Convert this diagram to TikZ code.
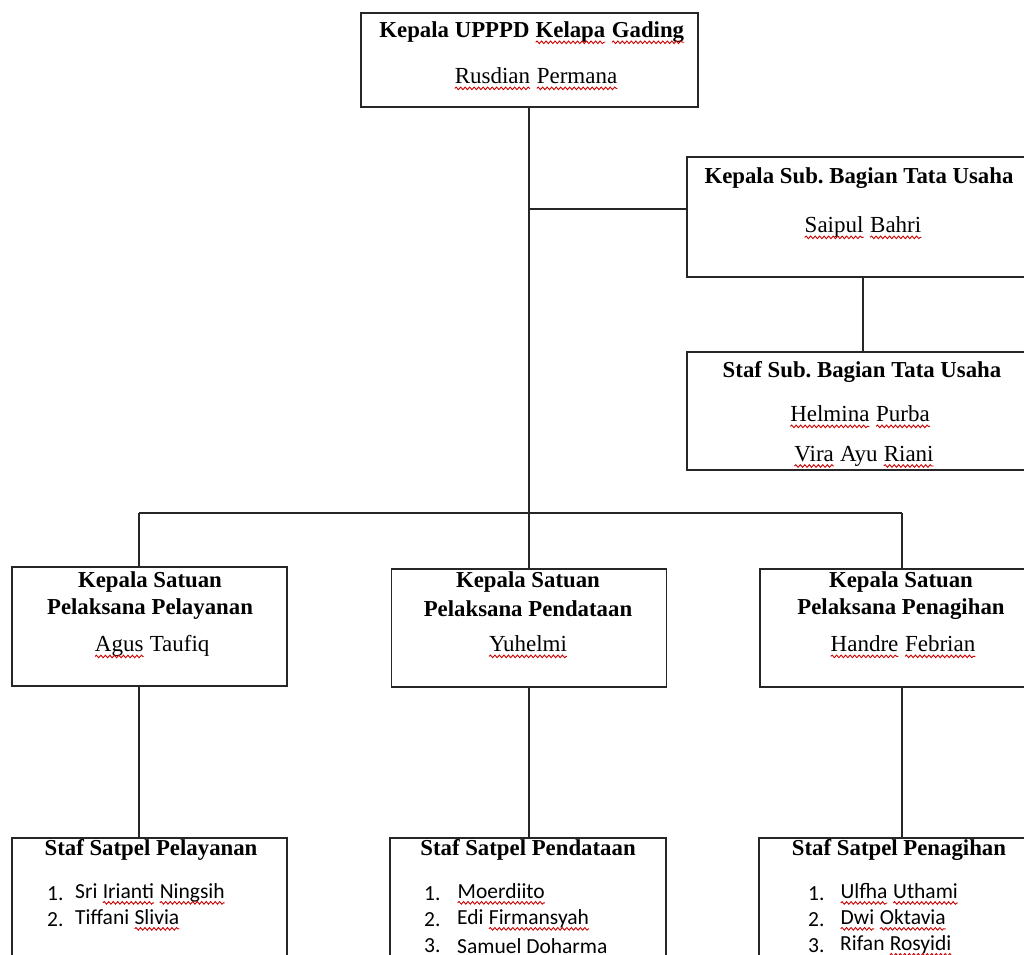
\documentclass[tikz,border=0pt]{standalone}
\usepackage{fontspec}
\setmainfont{Liberation Serif}
\newfontfamily\calibfont{Carlito}
\usetikzlibrary{decorations.pathmorphing}
\frenchspacing
\newcommand{\sq}[1]{\tikz[baseline=(sqw.base)]{\node[inner sep=0pt, outer sep=0pt] (sqw) {#1};
  \draw[red!80!black, line width=0.9pt, decorate, decoration={snake, amplitude=1.3pt, segment length=4.5pt}] ([yshift=-4.5pt]sqw.base west) -- ([yshift=-4.5pt]sqw.base east);}}
\begin{document}
\begin{tikzpicture}[x=1pt,y=-1pt,
  box/.style={draw=black!85, line width=1.6pt, rectangle, inner sep=0pt},
  ttl/.style={font=\fontsize{22.8}{26}\selectfont\bfseries, inner sep=0pt},
  nm/.style={font=\fontsize{23}{26}\selectfont, inner sep=0pt},
  itm/.style={font=\calibfont\fontsize{21.5}{24}\selectfont, inner sep=0pt, anchor=west},
  ln/.style={draw=black!85, line width=1.6pt}]
\fill[white] (0,0) rectangle (1024,954);
\useasboundingbox (0,0) rectangle (1024,954);
\clip (0,0) rectangle (1024,954);

% boxes
\node[box, minimum width=337pt, minimum height=94pt] (top) at (529.5,60) {};
\node[box, minimum width=360pt, minimum height=120pt] (sub) at (867,217) {};
\node[box, minimum width=360pt, minimum height=118pt] (stafsub) at (867,411) {};
\node[box, minimum width=275pt, minimum height=119pt] (lk) at (149.5,626.5) {};
\node[box, minimum width=275pt, minimum height=118pt] (mk) at (529,628) {};
\node[box, minimum width=290pt, minimum height=118pt] (rk) at (905,628) {};
\node[box, minimum width=275pt, minimum height=160pt] (ls) at (149.5,918) {};
\node[box, minimum width=276pt, minimum height=160pt] (ms) at (528,918) {};
\node[box, minimum width=290pt, minimum height=160pt] (rs) at (904,918) {};

% junctions
\coordinate (jsub) at (529,209);
\coordinate (bm) at (529,513);
\coordinate (bl) at (139,513);
\coordinate (brr) at (902,513);
\coordinate (vs) at (863,0);

% connectors
\draw[ln] (top.south -| bm) -- (bm);
\draw[ln] (jsub) -- (jsub -| sub.west);
\draw[ln] (vs |- sub.south) -- (vs |- stafsub.north);
\draw[ln] (bl) -- (brr);
\draw[ln] (bl) -- (bl |- lk.north);
\draw[ln] (bm) -- (bm |- mk.north);
\draw[ln] (brr) -- (brr |- rk.north);
\draw[ln] (bl |- lk.south) -- (bl |- ls.north);
\draw[ln] (bm |- mk.south) -- (bm |- ms.north);
\draw[ln] (brr |- rk.south) -- (brr |- rs.north);

% texts: top
\node[ttl] (topT) at (532,33) {Kepala UPPPD \sq{Kelapa} \sq{Gading}};
\node[nm] (topN) at (536,79) {\sq{Rusdian} \sq{Permana}};
% sub
\node[ttl] (subT) at (859,178) {Kepala Sub. Bagian Tata Usaha};
\node[nm] (subN) at (863,228) {\sq{Saipul} \sq{Bahri}};
\node[ttl] (ssT) at (862,372) {Staf Sub. Bagian Tata Usaha};
\node[nm] (ssN1) at (860,417) {\sq{Helmina} \sq{Purba}};
\node[nm] (ssN2) at (864,457) {\sq{Vira} Ayu \sq{Riani}};
% kepala satuan
\node[ttl] (lkT1) at (150,582) {Kepala Satuan};
\node[ttl] (lkT2) at (150,609) {Pelaksana Pelayanan};
\node[nm] (lkN) at (152,647) {\sq{Agus} Taufiq};
\node[ttl] (mkT1) at (528,582) {Kepala Satuan};
\node[ttl] (mkT2) at (528,609) {Pelaksana Pendataan};
\node[nm] (mkN) at (528,647) {\sq{Yuhelmi}};
\node[ttl] (rkT1) at (901,582) {Kepala Satuan};
\node[ttl] (rkT2) at (901,609) {Pelaksana Penagihan};
\node[nm] (rkN) at (903,647) {\sq{Handre} \sq{Febrian}};
% staf satpel
\node[ttl] (lsT) at (151,850) {Staf Satpel Pelayanan};
\node[itm] (ls1n) at (47,894) {1.};
\node[itm] (ls1) at (75,894) {Sri \sq{Irianti} \sq{Ningsih}};
\node[itm] (ls2n) at (47,920) {2.};
\node[itm] (ls2) at (75,920) {Tiffani \sq{Slivia}};
\node[ttl] (msT) at (528,850) {Staf Satpel Pendataan};
\node[itm] (ms1n) at (424,894) {1.};
\node[itm] (ms1) at (457,894) {\sq{Moerdiito}};
\node[itm] (ms2n) at (424,920) {2.};
\node[itm] (ms2) at (457,920) {Edi \sq{Firmansyah}};
\node[itm] (ms3n) at (424,946) {3.};
\node[itm] (ms3) at (457,946) {Samuel Doharma};
\node[ttl] (rsT) at (899,850) {Staf Satpel Penagihan};
\node[itm] (rs1n) at (808,894) {1.};
\node[itm] (rs1) at (840,894) {\sq{Ulfha} \sq{Uthami}};
\node[itm] (rs2n) at (808,920) {2.};
\node[itm] (rs2) at (840,920) {\sq{Dwi} \sq{Oktavia}};
\node[itm] (rs3n) at (808,946) {3.};
\node[itm] (rs3) at (840,946) {Rifan \sq{Rosyidi}};
\end{tikzpicture}
\end{document}
